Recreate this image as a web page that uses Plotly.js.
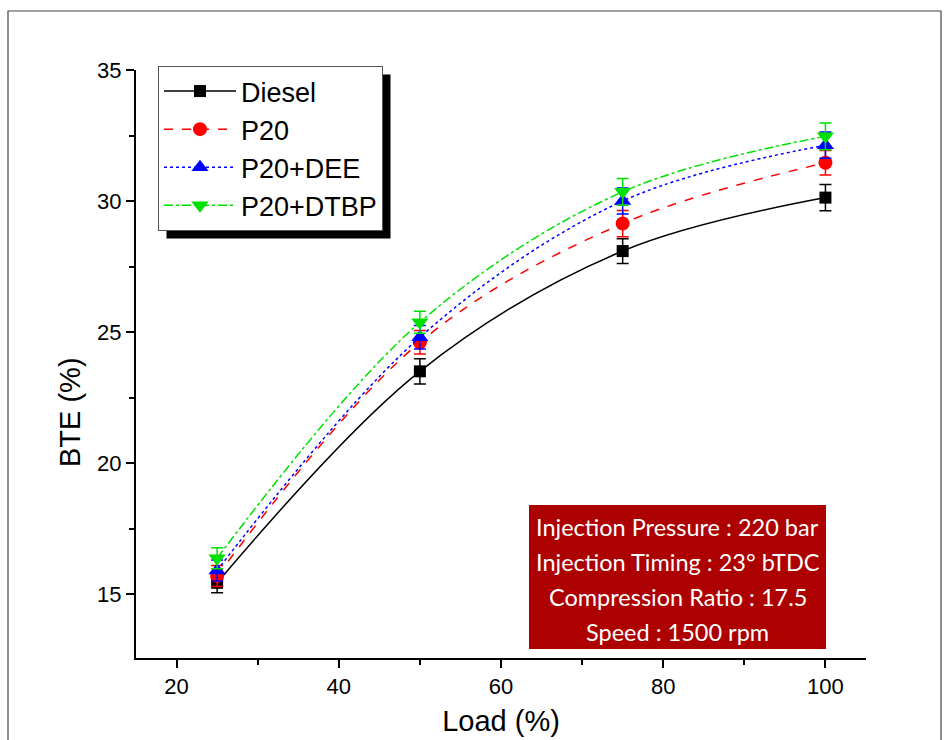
<!DOCTYPE html>
<html>
<head>
<meta charset="utf-8">
<script src="https://cdn.plot.ly/plotly-3.0.1.min.js"></script>
<style>html,body{margin:0;padding:0;background:#fff;}#chart{width:949px;height:740px;}</style>
</head>
<body>
<div id="chart"></div>
<script>
// ---- data ----
const load = [25, 50, 75, 100];
const seriesNames = ["Diesel", "P20", "P20+DEE", "P20+DTBP"];
const dieselBTE = [15.43, 23.5, 28.09, 30.13];
const dieselErr = [0.38, 0.48, 0.47, 0.5];
const p20BTE = [15.69, 24.61, 29.14, 31.46];
const p20Err = [0.4, 0.45, 0.5, 0.47];
const deeBTE = [15.9, 24.8, 30.0, 32.13];
const deeErr = [0.4, 0.45, 0.5, 0.5];
const dtbpBTE = [16.37, 25.37, 30.35, 32.47];
const dtbpErr = [0.4, 0.42, 0.51, 0.51];
const infoLines = ["Injection Pressure : 220 bar", "Injection Timing : 23° bTDC", "Compression Ratio : 17.5", "Speed : 1500 rpm"];
const xTitle = "Load (%)";
const yTitle = "BTE (%)";

// ---- layout geometry (pixels) ----
const W = 949, H = 740;
const M = {l: 136, r: 83, t: 70, b: 82};
const PW = W - M.l - M.r, PH = H - M.t - M.b;
const px = x => (x - M.l) / PW;
const py = y => (H - M.b - y) / PH;

const FONT = '"Liberation Sans", Arial, sans-serif';
const colors = ["#000000", "#ff0000", "#0000ff", "#00e000"];
const dashes = ["solid", "dash", "dot", "dashdot"];
const symbols = ["square", "circle", "triangle-up", "triangle-down"];
const sizes = [12, 14, 15, 15];
const ys = [dieselBTE, p20BTE, deeBTE, dtbpBTE];
const errs = [dieselErr, p20Err, deeErr, dtbpErr];

const traces = seriesNames.map((name, i) => ({
  type: 'scatter', mode: 'lines+markers', name: name,
  x: load, y: ys[i],
  line: {color: colors[i], width: 1.5, dash: dashes[i], shape: 'spline', smoothing: 1},
  marker: {symbol: symbols[i], size: sizes[i], color: colors[i]},
  error_y: {type: 'data', array: errs[i], visible: true, color: colors[i], thickness: 1.5, width: 6}
}));

const annotations = infoLines.map((t, i) => ({
  xref: 'paper', yref: 'paper', x: px(677.5), y: py(527 + i * 35),
  xanchor: 'center', yanchor: 'middle', showarrow: false, text: t,
  font: {family: 'Lato, "Open Sans", sans-serif', size: 23.5, color: '#ffffff'}
}));
annotations.push({
  xref: 'paper', yref: 'paper', x: px(70), y: py(412),
  xanchor: 'center', yanchor: 'middle', showarrow: false, textangle: -90, text: yTitle,
  font: {family: FONT, size: 29, color: '#000'}
});

const layout = {
  width: W, height: H, margin: M,
  paper_bgcolor: '#ffffff', plot_bgcolor: '#ffffff',
  font: {family: FONT, color: '#000'},
  showlegend: true,
  legend: {
    x: px(158), y: py(66), xanchor: 'left', yanchor: 'top',
    bgcolor: '#ffffff', bordercolor: '#555', borderwidth: 1,
    font: {family: FONT, size: 27, color: '#000'},
    itemwidth: 72, traceorder: 'normal'
  },
  xaxis: {
    range: [15, 105], tick0: 0, dtick: 20, showgrid: false, zeroline: false,
    showline: true, linecolor: '#000', linewidth: 2,
    ticks: 'outside', ticklen: 8, tickwidth: 2, tickcolor: '#000',
    minor: {dtick: 10, ticks: 'outside', ticklen: 5, tickwidth: 2, tickcolor: '#000', showgrid: false},
    tickfont: {family: FONT, size: 22},
    title: {text: xTitle, font: {family: FONT, size: 29}, standoff: 12}
  },
  yaxis: {
    range: [12.56, 35], tick0: 0, dtick: 5, showgrid: false, zeroline: false,
    showline: true, linecolor: '#000', linewidth: 2,
    ticks: 'outside', ticklen: 8, tickwidth: 2, tickcolor: '#000',
    minor: {dtick: 2.5, ticks: 'outside', ticklen: 5, tickwidth: 2, tickcolor: '#000', showgrid: false},
    tickfont: {family: FONT, size: 22}
  },
  shapes: [
    {type: 'rect', xref: 'paper', yref: 'paper', x0: px(8), x1: px(941), y0: py(11), y1: py(760),
     line: {color: '#444', width: 1.2}, fillcolor: 'rgba(0,0,0,0)', layer: 'below'},
    {type: 'rect', xref: 'paper', yref: 'paper', x0: px(167), x1: px(406), y0: py(74), y1: py(227),
     line: {width: 0}, fillcolor: '#000', layer: 'above'},
    {type: 'rect', xref: 'paper', yref: 'paper', x0: px(529), x1: px(826), y0: py(505), y1: py(649),
     line: {width: 0}, fillcolor: '#ad0000', layer: 'above'}
  ],
  annotations: annotations
};

const gd = document.getElementById('chart');
Plotly.newPlot(gd, traces, layout, {displayModeBar: false, staticPlot: true}).then(() => {
  // place the legend's drop shadow 8px down/right of the legend box
  const bg = gd.querySelector('.legend .bg');
  if (!bg) return;
  const r = bg.getBoundingClientRect();
  const c = gd.getBoundingClientRect();
  const L = r.left - c.left, T = r.top - c.top;
  return Plotly.relayout(gd, {
    'shapes[1].x0': px(L + 8), 'shapes[1].x1': px(L + r.width + 8),
    'shapes[1].y0': py(T + 8), 'shapes[1].y1': py(T + r.height + 8)
  });
});
</script>
</body>
</html>
